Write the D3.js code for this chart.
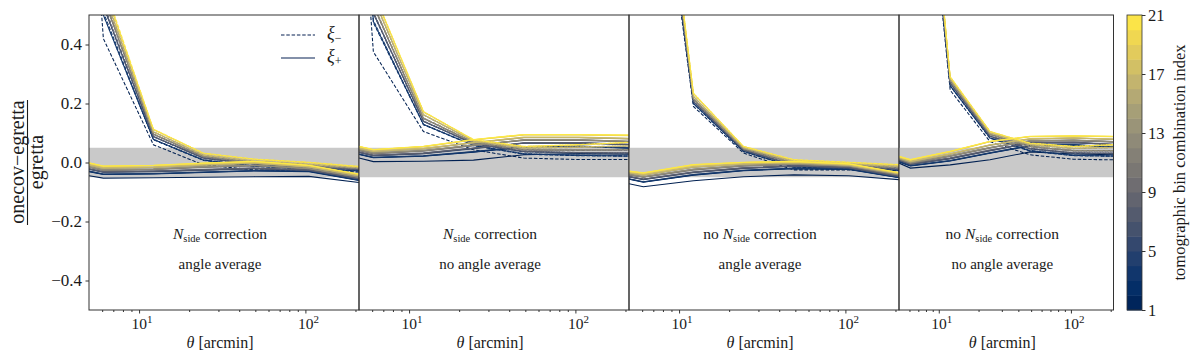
<!DOCTYPE html>
<html><head><meta charset="utf-8">
<script src="https://cdn.jsdelivr.net/npm/d3@7"></script>
<style>
body{margin:0;background:#fff}
svg{display:block}
svg text{font-family:"Liberation Serif","DejaVu Serif",serif;fill:#1a1a1a}
</style>
</head><body>
<svg id="chart" width="1200" height="360" font-family="Liberation Serif, DejaVu Serif, serif"></svg>
<script>
// ---------------- data ----------------
const thetaPoints = [5, 6.1, 12.2, 24.4, 49, 105, 210];
const yTickValues = [-0.4, -0.2, 0.0, 0.2, 0.4];
const yTickLabels = ["\u22120.4", "\u22120.2", "0.0", "0.2", "0.4"];
const xMajorTicks = [10, 100];
const xMajorExponents = ["1", "2"];
const xMinorTicks = [6, 7, 8, 9, 20, 30, 40, 50, 60, 70, 80, 90, 200];
const cbarTicks = [1, 5, 9, 13, 17, 21];
const binIndices = d3.range(1, 22);
const bandLimits = [-0.05, 0.05];
const legendLabels = ["\u03be", "\u03be"];
const legendSubs = ["\u2212", "+"];
const panelLine1 = [["", "correction"], ["", "correction"], ["no ", "correction"], ["no ", "correction"]];
const panelLine2 = ["angle average", "no angle average", "angle average", "no angle average"];
const xLabel = "[arcmin]";
const yLabelNum = "onecov\u2212egretta";
const yLabelDen = "egretta";
const cbarLabel = "tomographic bin combination index";

// panel 1: N_side correction, angle average
const p1Minus = [
 [1.10,0.42,0.060,-0.008,-0.025,-0.030,-0.032],
 [1.19,0.50,0.077,0.007,-0.013,-0.023,-0.029],
 [1.20,0.50,0.078,0.008,-0.012,-0.022,-0.028],
 [1.21,0.51,0.079,0.009,-0.011,-0.021,-0.027],
 [1.25,0.53,0.087,0.014,-0.006,-0.017,-0.025],
 [1.26,0.53,0.088,0.015,-0.005,-0.016,-0.024],
 [1.26,0.53,0.088,0.015,-0.005,-0.016,-0.024],
 [1.27,0.54,0.089,0.016,-0.004,-0.015,-0.023],
 [1.30,0.56,0.095,0.019,-0.001,-0.012,-0.021],
 [1.31,0.56,0.096,0.020,0.000,-0.011,-0.020],
 [1.31,0.56,0.096,0.020,0.000,-0.011,-0.020],
 [1.32,0.56,0.097,0.021,0.001,-0.010,-0.020],
 [1.32,0.57,0.097,0.021,0.001,-0.010,-0.019],
 [1.35,0.58,0.103,0.024,0.004,-0.007,-0.018],
 [1.35,0.58,0.104,0.025,0.005,-0.006,-0.017],
 [1.36,0.58,0.104,0.025,0.005,-0.006,-0.017],
 [1.36,0.59,0.105,0.026,0.006,-0.005,-0.016],
 [1.39,0.60,0.111,0.030,0.010,-0.001,-0.015],
 [1.40,0.60,0.112,0.031,0.011,0.000,-0.014],
 [1.40,0.60,0.112,0.031,0.011,0.000,-0.014],
 [1.41,0.61,0.113,0.032,0.012,0.001,-0.013]
];
const p1Plus = [
 [-0.045,-0.053,-0.052,-0.050,-0.048,-0.047,-0.068],
 [-0.031,-0.041,-0.039,-0.034,-0.029,-0.031,-0.061],
 [-0.030,-0.040,-0.038,-0.033,-0.028,-0.030,-0.060],
 [-0.029,-0.039,-0.037,-0.032,-0.027,-0.029,-0.059],
 [-0.023,-0.033,-0.031,-0.026,-0.021,-0.027,-0.056],
 [-0.022,-0.032,-0.030,-0.025,-0.020,-0.026,-0.055],
 [-0.022,-0.032,-0.030,-0.025,-0.020,-0.026,-0.055],
 [-0.021,-0.031,-0.029,-0.024,-0.019,-0.025,-0.054],
 [-0.016,-0.027,-0.024,-0.016,-0.011,-0.022,-0.051],
 [-0.015,-0.026,-0.023,-0.015,-0.010,-0.021,-0.050],
 [-0.015,-0.026,-0.023,-0.015,-0.010,-0.021,-0.050],
 [-0.014,-0.025,-0.022,-0.014,-0.009,-0.020,-0.049],
 [-0.014,-0.025,-0.022,-0.014,-0.009,-0.020,-0.049],
 [-0.009,-0.020,-0.017,-0.009,-0.003,-0.016,-0.046],
 [-0.008,-0.019,-0.016,-0.008,-0.002,-0.015,-0.045],
 [-0.008,-0.019,-0.016,-0.008,-0.002,-0.015,-0.045],
 [-0.007,-0.018,-0.015,-0.007,-0.001,-0.014,-0.044],
 [-0.003,-0.014,-0.011,-0.004,0.002,-0.011,-0.041],
 [-0.002,-0.013,-0.010,-0.003,0.003,-0.010,-0.040],
 [-0.002,-0.013,-0.010,-0.003,0.003,-0.010,-0.040],
 [-0.001,-0.012,-0.009,-0.002,0.004,-0.009,-0.039]
];
// panel 2: N_side correction, no angle average
const p2Minus = [
 [1.05,0.375,0.105,0.043,0.015,0.010,0.010],
 [1.17,0.474,0.128,0.057,0.028,0.023,0.021],
 [1.18,0.478,0.129,0.058,0.029,0.024,0.022],
 [1.19,0.482,0.130,0.059,0.030,0.025,0.023],
 [1.23,0.504,0.139,0.063,0.036,0.032,0.031],
 [1.24,0.507,0.140,0.064,0.037,0.033,0.032],
 [1.24,0.507,0.140,0.064,0.037,0.033,0.032],
 [1.25,0.510,0.141,0.065,0.038,0.034,0.033],
 [1.28,0.530,0.149,0.067,0.042,0.041,0.042],
 [1.29,0.533,0.150,0.068,0.043,0.042,0.043],
 [1.29,0.533,0.150,0.068,0.043,0.042,0.043],
 [1.30,0.536,0.151,0.069,0.044,0.043,0.044],
 [1.30,0.536,0.151,0.069,0.044,0.043,0.044],
 [1.33,0.555,0.161,0.072,0.048,0.051,0.055],
 [1.34,0.558,0.162,0.073,0.049,0.052,0.056],
 [1.34,0.558,0.162,0.073,0.049,0.052,0.056],
 [1.35,0.561,0.163,0.074,0.050,0.053,0.057],
 [1.39,0.575,0.171,0.076,0.053,0.059,0.067],
 [1.40,0.578,0.172,0.077,0.054,0.060,0.068],
 [1.40,0.578,0.172,0.077,0.054,0.060,0.068],
 [1.41,0.581,0.173,0.078,0.055,0.061,0.069]
];
const p2Plus = [
 [0.015,0.003,0.004,0.008,0.026,0.030,0.028],
 [0.027,0.016,0.021,0.035,0.052,0.054,0.048],
 [0.028,0.017,0.022,0.036,0.053,0.055,0.049],
 [0.029,0.018,0.023,0.037,0.054,0.056,0.050],
 [0.034,0.023,0.030,0.047,0.065,0.066,0.060],
 [0.035,0.024,0.031,0.048,0.066,0.067,0.061],
 [0.035,0.024,0.031,0.048,0.066,0.067,0.061],
 [0.036,0.025,0.032,0.049,0.067,0.068,0.062],
 [0.041,0.030,0.039,0.057,0.075,0.075,0.070],
 [0.042,0.031,0.040,0.058,0.076,0.076,0.071],
 [0.042,0.031,0.040,0.058,0.076,0.076,0.071],
 [0.043,0.032,0.041,0.059,0.077,0.077,0.072],
 [0.043,0.032,0.041,0.059,0.077,0.077,0.072],
 [0.047,0.036,0.046,0.066,0.084,0.084,0.080],
 [0.048,0.037,0.047,0.067,0.085,0.085,0.081],
 [0.048,0.037,0.047,0.067,0.085,0.085,0.081],
 [0.049,0.038,0.048,0.068,0.086,0.086,0.082],
 [0.053,0.042,0.053,0.076,0.093,0.093,0.091],
 [0.054,0.043,0.054,0.077,0.094,0.094,0.092],
 [0.054,0.043,0.054,0.077,0.094,0.094,0.092],
 [0.055,0.044,0.055,0.078,0.095,0.095,0.093]
];
// panel 3: no N_side correction, angle average
const p3Minus = [
 [3.00,1.47,0.190,0.032,-0.025,-0.025,-0.035],
 [3.05,1.50,0.199,0.037,-0.016,-0.019,-0.028],
 [3.06,1.51,0.200,0.038,-0.015,-0.018,-0.027],
 [3.07,1.51,0.201,0.039,-0.014,-0.017,-0.026],
 [3.14,1.53,0.206,0.041,-0.010,-0.015,-0.024],
 [3.15,1.54,0.207,0.042,-0.009,-0.014,-0.023],
 [3.15,1.54,0.207,0.042,-0.009,-0.014,-0.023],
 [3.16,1.54,0.208,0.043,-0.008,-0.013,-0.022],
 [3.23,1.56,0.214,0.045,-0.003,-0.010,-0.019],
 [3.24,1.57,0.215,0.046,-0.002,-0.009,-0.018],
 [3.24,1.57,0.215,0.046,-0.002,-0.009,-0.018],
 [3.25,1.57,0.216,0.047,-0.001,-0.008,-0.017],
 [3.25,1.57,0.216,0.047,-0.001,-0.008,-0.017],
 [3.31,1.59,0.223,0.049,0.003,-0.006,-0.014],
 [3.32,1.60,0.224,0.050,0.004,-0.005,-0.013],
 [3.32,1.60,0.224,0.050,0.004,-0.005,-0.013],
 [3.33,1.60,0.225,0.051,0.005,-0.004,-0.012],
 [3.39,1.62,0.233,0.053,0.008,-0.001,-0.009],
 [3.40,1.62,0.234,0.054,0.009,0.000,-0.008],
 [3.40,1.62,0.234,0.054,0.009,0.000,-0.008],
 [3.41,1.63,0.235,0.055,0.010,0.001,-0.007]
];
const p3Plus = [
 [-0.072,-0.082,-0.062,-0.048,-0.042,-0.045,-0.058],
 [-0.057,-0.067,-0.043,-0.028,-0.021,-0.024,-0.052],
 [-0.056,-0.066,-0.042,-0.027,-0.020,-0.023,-0.051],
 [-0.055,-0.065,-0.041,-0.026,-0.019,-0.022,-0.050],
 [-0.049,-0.058,-0.034,-0.020,-0.013,-0.019,-0.048],
 [-0.048,-0.057,-0.033,-0.019,-0.012,-0.018,-0.047],
 [-0.048,-0.057,-0.033,-0.019,-0.012,-0.018,-0.047],
 [-0.047,-0.056,-0.032,-0.018,-0.011,-0.017,-0.046],
 [-0.042,-0.050,-0.025,-0.012,-0.007,-0.014,-0.043],
 [-0.041,-0.049,-0.024,-0.011,-0.006,-0.013,-0.042],
 [-0.041,-0.049,-0.024,-0.011,-0.006,-0.013,-0.042],
 [-0.040,-0.048,-0.023,-0.010,-0.005,-0.012,-0.041],
 [-0.040,-0.048,-0.023,-0.010,-0.005,-0.012,-0.041],
 [-0.036,-0.043,-0.016,-0.006,-0.002,-0.010,-0.039],
 [-0.035,-0.042,-0.015,-0.005,-0.001,-0.009,-0.038],
 [-0.035,-0.042,-0.015,-0.005,-0.001,-0.009,-0.038],
 [-0.034,-0.041,-0.014,-0.004,0.000,-0.008,-0.037],
 [-0.031,-0.037,-0.009,-0.001,0.002,-0.006,-0.036],
 [-0.030,-0.036,-0.008,0.000,0.003,-0.005,-0.035],
 [-0.030,-0.036,-0.008,0.000,0.003,-0.005,-0.035],
 [-0.029,-0.035,-0.007,0.001,0.004,-0.004,-0.034]
];
// panel 4: no N_side correction, no angle average
const p4Minus = [
 [3.00,1.57,0.245,0.071,0.026,0.011,0.009],
 [3.06,1.60,0.259,0.082,0.039,0.023,0.021],
 [3.07,1.61,0.260,0.083,0.040,0.024,0.022],
 [3.08,1.61,0.261,0.084,0.041,0.025,0.023],
 [3.15,1.63,0.268,0.088,0.046,0.031,0.030],
 [3.16,1.64,0.269,0.089,0.047,0.032,0.031],
 [3.16,1.64,0.269,0.089,0.047,0.032,0.031],
 [3.17,1.64,0.270,0.090,0.048,0.033,0.032],
 [3.24,1.66,0.276,0.094,0.053,0.039,0.039],
 [3.25,1.67,0.277,0.095,0.054,0.040,0.040],
 [3.25,1.67,0.277,0.095,0.054,0.040,0.040],
 [3.26,1.67,0.278,0.096,0.055,0.041,0.041],
 [3.26,1.67,0.278,0.096,0.055,0.041,0.041],
 [3.32,1.69,0.283,0.099,0.059,0.047,0.050],
 [3.33,1.70,0.284,0.100,0.060,0.048,0.051],
 [3.33,1.70,0.284,0.100,0.060,0.048,0.051],
 [3.34,1.70,0.285,0.101,0.061,0.049,0.052],
 [3.39,1.72,0.289,0.104,0.064,0.053,0.059],
 [3.40,1.72,0.290,0.105,0.065,0.054,0.060],
 [3.40,1.72,0.290,0.105,0.065,0.054,0.060],
 [3.41,1.73,0.291,0.106,0.066,0.055,0.061]
];
const p4Plus = [
 [-0.002,-0.019,-0.008,0.009,0.036,0.029,0.026],
 [0.002,-0.012,0.005,0.031,0.056,0.059,0.051],
 [0.003,-0.011,0.006,0.032,0.057,0.060,0.052],
 [0.004,-0.010,0.007,0.033,0.058,0.061,0.053],
 [0.007,-0.007,0.013,0.040,0.065,0.067,0.060],
 [0.008,-0.006,0.014,0.041,0.066,0.068,0.061],
 [0.008,-0.006,0.014,0.041,0.066,0.068,0.061],
 [0.009,-0.005,0.015,0.042,0.067,0.069,0.062],
 [0.011,-0.003,0.021,0.049,0.072,0.074,0.069],
 [0.012,-0.002,0.022,0.050,0.073,0.075,0.070],
 [0.012,-0.002,0.022,0.050,0.073,0.075,0.070],
 [0.013,-0.001,0.023,0.051,0.074,0.076,0.071],
 [0.013,-0.001,0.023,0.051,0.074,0.076,0.071],
 [0.015,0.002,0.028,0.058,0.079,0.082,0.078],
 [0.016,0.003,0.029,0.059,0.080,0.083,0.079],
 [0.016,0.003,0.029,0.059,0.080,0.083,0.079],
 [0.017,0.004,0.030,0.060,0.081,0.084,0.080],
 [0.019,0.008,0.036,0.070,0.087,0.089,0.087],
 [0.020,0.009,0.037,0.071,0.088,0.090,0.088],
 [0.020,0.009,0.037,0.071,0.088,0.090,0.088],
 [0.021,0.010,0.038,0.072,0.089,0.091,0.089]
];
const minusSeries = [p1Minus, p2Minus, p3Minus, p4Minus];
const plusSeries = [p1Plus, p2Plus, p3Plus, p4Plus];

// ---------------- layout ----------------
const FONT = "Liberation Serif, DejaVu Serif, serif";
const panelLeft = [89, 359, 629, 899];
const panelWidth = [270, 270, 270, 214.5];
const plotTop = 15, plotBottom = 310;
const cbarX = 1127, cbarW = 15;

const svg = d3.select("#chart");
svg.append("rect").attr("width", 1200).attr("height", 360).attr("fill", "#fff");

const y = d3.scaleLinear().domain([-0.5, 0.5]).range([plotBottom, plotTop]);
const cmap = i => d3.interpolateCividis((i - 1) / 20);
const defs = svg.append("defs");
const txt = (sel) => sel.append("text").attr("font-family", FONT).attr("fill", "#1a1a1a");

const line = (xs) => d3.line().x((d, j) => xs(thetaPoints[j])).y(d => y(d));

panelLeft.forEach((x0, p) => {
  const w = panelWidth[p];
  const x = d3.scaleLog().domain([5, 210]).range([x0, x0 + w]);
  const clipId = "clip" + p;
  defs.append("clipPath").attr("id", clipId)
    .append("rect").attr("x", x0).attr("y", plotTop).attr("width", w).attr("height", plotBottom - plotTop);
  const g = svg.append("g");
  const inner = g.append("g").attr("clip-path", `url(#${clipId})`);
  inner.append("rect")
    .attr("x", x0).attr("width", w)
    .attr("y", y(bandLimits[1])).attr("height", y(bandLimits[0]) - y(bandLimits[1]))
    .attr("fill", "#c9c9c9");
  const lg = line(x);
  binIndices.forEach((bi, k) => {
    inner.append("path").attr("d", lg(minusSeries[p][k]))
      .attr("fill", "none").attr("stroke", cmap(bi)).attr("stroke-width", 1.05)
      .attr("stroke-dasharray", "3.5,1.8");
    inner.append("path").attr("d", lg(plusSeries[p][k]))
      .attr("fill", "none").attr("stroke", cmap(bi)).attr("stroke-width", 1.05);
  });
  g.append("rect").attr("x", x0).attr("y", plotTop).attr("width", w).attr("height", plotBottom - plotTop)
    .attr("fill", "none").attr("stroke", "#333").attr("stroke-width", 1);
  const ax = d3.axisBottom(x).tickValues(xMajorTicks).tickSize(3.5).tickFormat("");
  const axg = g.append("g").attr("transform", `translate(0,${plotBottom})`).call(ax);
  axg.select(".domain").remove();
  axg.selectAll(".tick line").attr("stroke", "#333");
  const axm = d3.axisBottom(x).tickValues(xMinorTicks).tickSize(2).tickFormat("");
  const axmg = g.append("g").attr("transform", `translate(0,${plotBottom})`).call(axm);
  axmg.select(".domain").remove();
  axmg.selectAll(".tick line").attr("stroke", "#333");
  xMajorTicks.forEach((t, k) => {
    const tx = txt(g).attr("x", x(t) + 3).attr("y", 329).attr("text-anchor", "middle").attr("font-size", 15.5);
    tx.append("tspan").text("10");
    tx.append("tspan").attr("dy", -6).attr("font-size", 11).text(xMajorExponents[k]);
  });
  const xl = txt(g).attr("x", x0 + w / 2 - 4).attr("y", 348).attr("text-anchor", "middle").attr("font-size", 16);
  xl.append("tspan").attr("font-style", "italic").text("\u03b8");
  xl.append("tspan").text(" " + xLabel);
  const cx = x0 + w / 2 - 4;
  const t1 = txt(g).attr("x", cx).attr("y", 239).attr("text-anchor", "middle").attr("font-size", 15.5);
  t1.append("tspan").text(panelLine1[p][0]);
  t1.append("tspan").attr("font-style", "italic").text("N");
  t1.append("tspan").attr("font-size", 10.5).attr("dy", 3).text("side");
  t1.append("tspan").attr("dy", -3).text(" " + panelLine1[p][1]);
  txt(g).attr("x", cx).attr("y", 269).attr("text-anchor", "middle").attr("font-size", 15)
    .text(panelLine2[p]);

  if (p === 0) {
    const ay = d3.axisLeft(y).tickValues(yTickValues).tickSize(3.5).tickFormat("");
    const ayg = g.append("g").attr("transform", `translate(${x0},0)`).call(ay);
    ayg.select(".domain").remove();
    ayg.selectAll(".tick line").attr("stroke", "#333");
    yTickValues.forEach((v, k) => {
      txt(g).attr("x", x0 - 7).attr("y", y(v) + 5.5).attr("text-anchor", "end")
        .attr("font-size", 17).text(yTickLabels[k]);
    });
    const legY = [35, 58];
    legY.forEach((ly, k) => {
      g.append("line").attr("x1", 281).attr("x2", 315).attr("y1", ly).attr("y2", ly)
        .attr("stroke", "#5a6b8c").attr("stroke-width", 1.3)
        .attr("stroke-dasharray", k === 0 ? "3.5,1.8" : null);
      const lt = txt(g).attr("x", 327).attr("y", ly + 4).attr("font-size", 18);
      lt.append("tspan").attr("font-style", "italic").text(legendLabels[k]);
      lt.append("tspan").attr("font-size", 12).attr("dy", 3).text(legendSubs[k]);
    });
  }
});

// y label (fraction)
const ylc = 162;
txt(svg).attr("transform", `translate(24,${ylc}) rotate(-90)`).attr("text-anchor", "middle")
  .attr("font-size", 20).text(yLabelNum);
svg.append("line").attr("x1", 27.5).attr("x2", 27.5).attr("y1", 100).attr("y2", 225)
  .attr("stroke", "#1a1a1a").attr("stroke-width", 1.1);
txt(svg).attr("transform", `translate(43,${ylc}) rotate(-90)`).attr("text-anchor", "middle")
  .attr("font-size", 20).text(yLabelDen);

// colorbar
const cy = d3.scaleLinear().domain([1, 21]).range([plotBottom, plotTop]);
const bands = d3.range(1, 21);
svg.append("g").selectAll("rect").data(bands).join("rect")
  .attr("x", cbarX).attr("width", cbarW)
  .attr("y", d => cy(d + 1)).attr("height", d => cy(d) - cy(d + 1) + 0.5)
  .attr("fill", d => d3.interpolateCividis((d - 1 + 0.5) / 20));
svg.append("rect").attr("x", cbarX).attr("y", plotTop).attr("width", cbarW).attr("height", plotBottom - plotTop)
  .attr("fill", "none").attr("stroke", "#333").attr("stroke-width", 0.8);
const cax = d3.axisRight(cy).tickValues(cbarTicks).tickSize(3.5).tickFormat("");
const caxg = svg.append("g").attr("transform", `translate(${cbarX + cbarW},0)`).call(cax);
caxg.select(".domain").remove();
caxg.selectAll(".tick line").attr("stroke", "#333");
cbarTicks.forEach(t => {
  txt(svg).attr("x", cbarX + cbarW + 6).attr("y", cy(t) + 5.5).attr("font-size", 16.5).text(String(t));
});
txt(svg).attr("transform", `translate(1185,${(plotTop + plotBottom) / 2}) rotate(-90)`)
  .attr("text-anchor", "middle").attr("font-size", 16.5).text(cbarLabel);
</script>
</body></html>
